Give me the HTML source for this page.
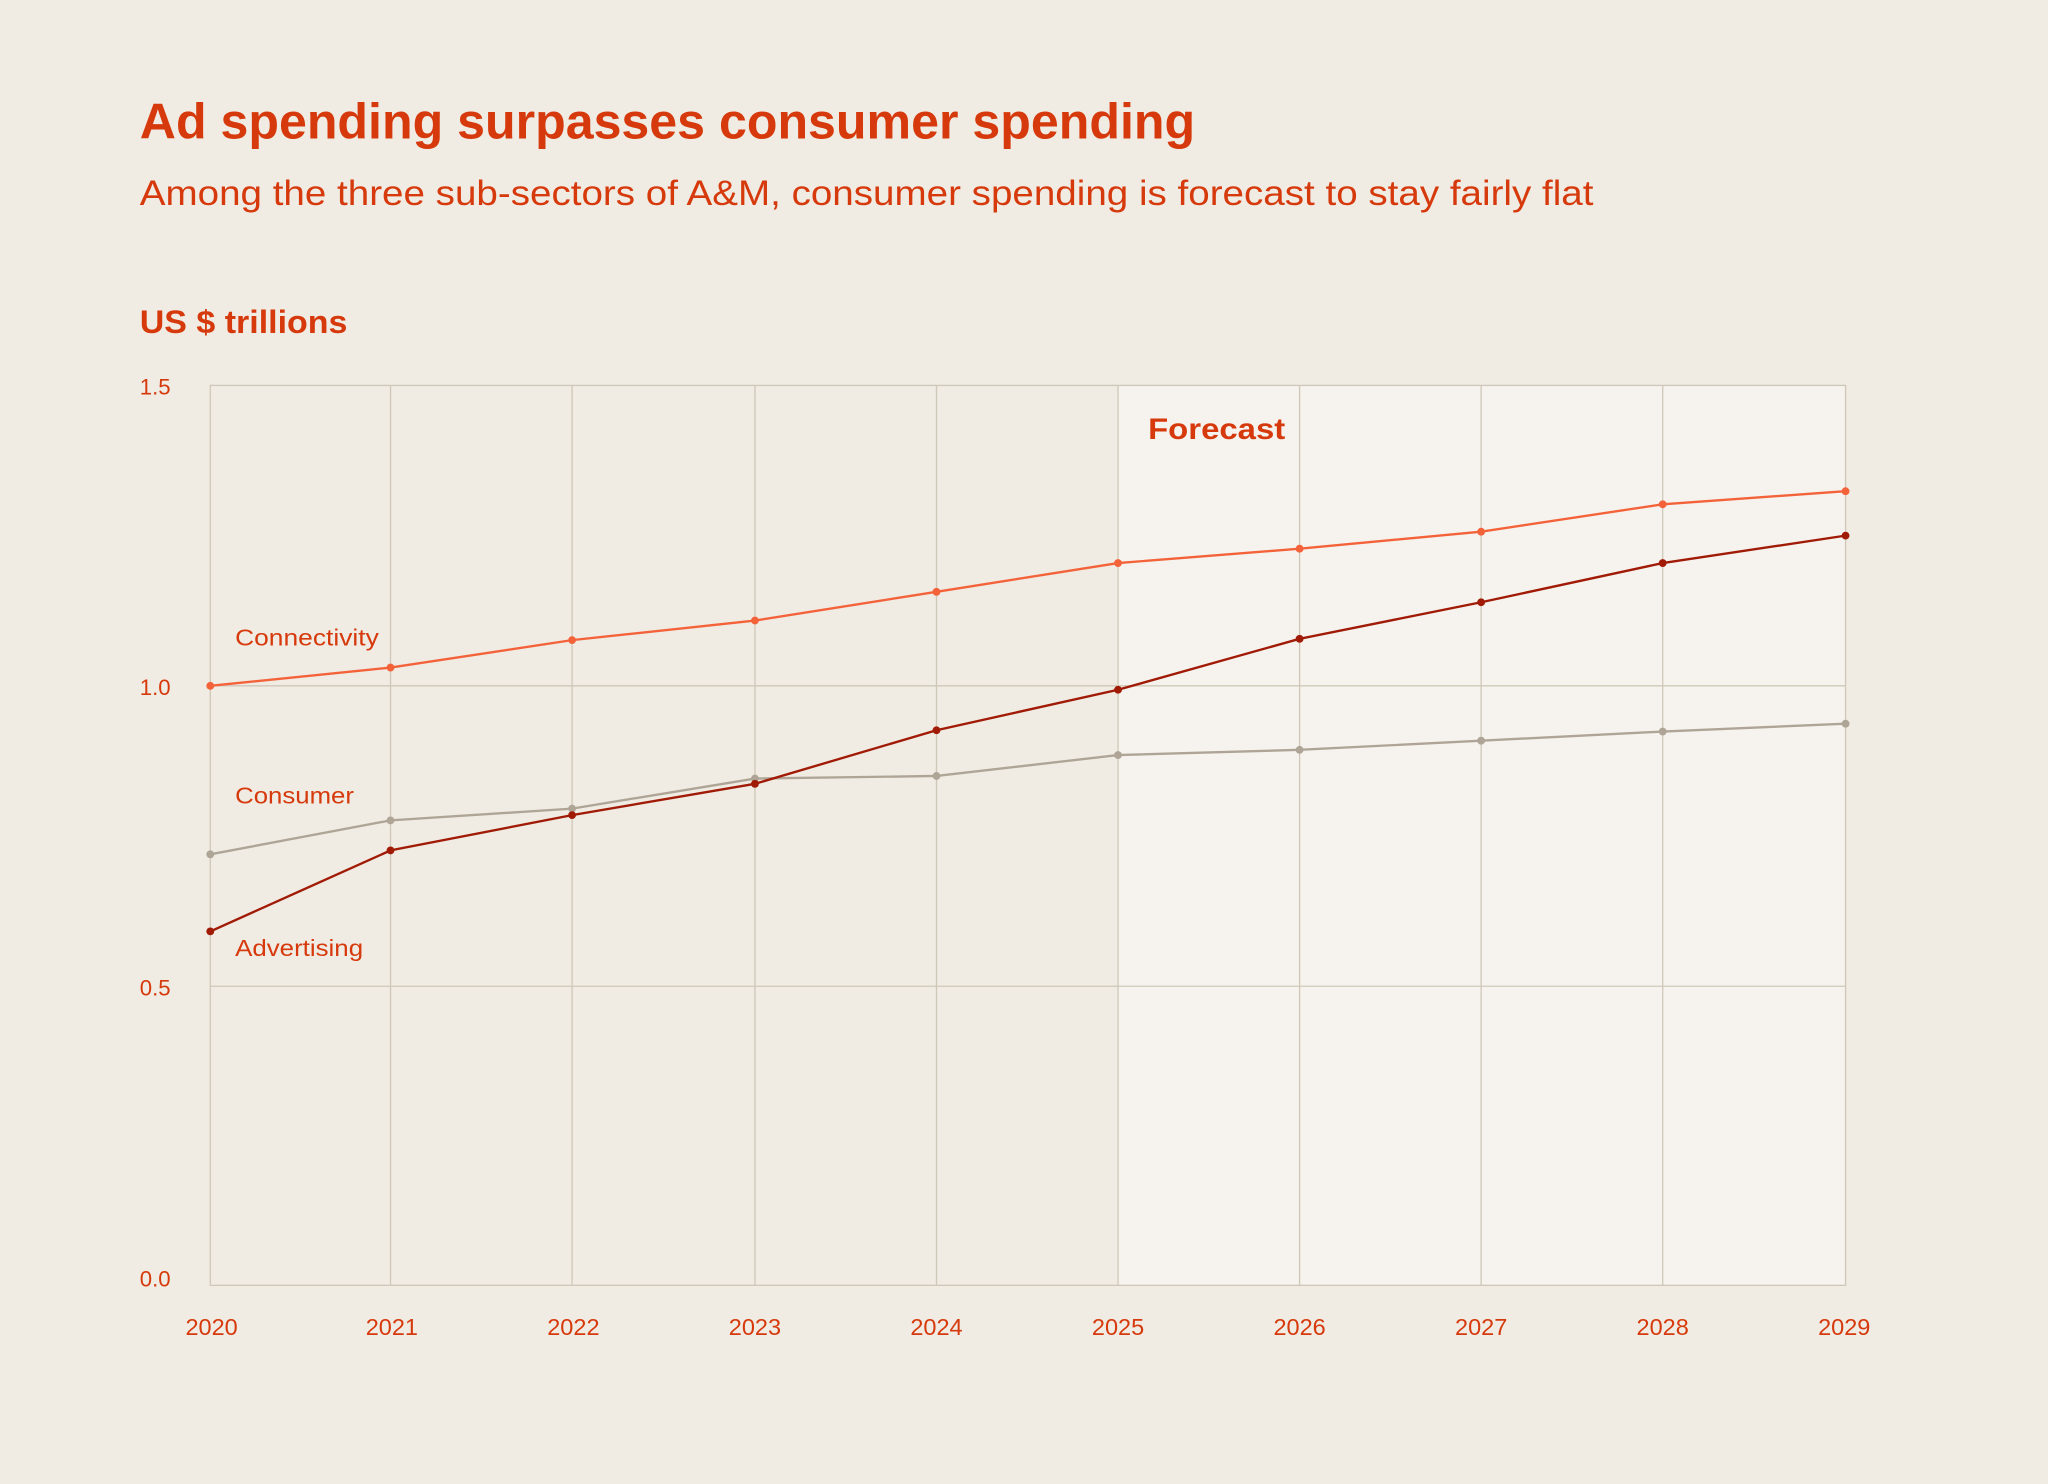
<!DOCTYPE html>
<html><head><style>
html,body{margin:0;padding:0;background:#f0ebe3;}
svg{display:block;}
text{font-family:"Liberation Sans",sans-serif;fill:#d63a0c;}
</style></head><body>
<svg width="2048" height="1484" viewBox="0 0 1568 1136" xmlns="http://www.w3.org/2000/svg">
<rect width="1568" height="1136" fill="#f0ebe3"/>
<text x="107" y="106" font-size="38" font-weight="bold" textLength="808" lengthAdjust="spacingAndGlyphs">Ad spending surpasses consumer spending</text>
<text x="107" y="157" font-size="27" textLength="1113" lengthAdjust="spacingAndGlyphs">Among the three sub-sectors of A&amp;M, consumer spending is forecast to stay fairly flat</text>
<text x="107" y="255" font-size="25" font-weight="bold" textLength="159" lengthAdjust="spacingAndGlyphs">US $ trillions</text>
<rect x="856" y="295" width="557" height="689" fill="#f6f3ee"/>
<g stroke="#cfc8b8" stroke-width="1" fill="none">
<rect x="161" y="295" width="1252" height="689"/>
<line x1="161" y1="525" x2="1413" y2="525"/>
<line x1="161" y1="755" x2="1413" y2="755"/>
<line x1="299" y1="295" x2="299" y2="984"/>
<line x1="438" y1="295" x2="438" y2="984"/>
<line x1="578" y1="295" x2="578" y2="984"/>
<line x1="717" y1="295" x2="717" y2="984"/>
<line x1="856" y1="295" x2="856" y2="984"/>
<line x1="995" y1="295" x2="995" y2="984"/>
<line x1="1134" y1="295" x2="1134" y2="984"/>
<line x1="1273" y1="295" x2="1273" y2="984"/>
</g>
<g font-size="17">
<text x="107" y="302">1.5</text>
<text x="107" y="532">1.0</text>
<text x="107" y="762">0.5</text>
<text x="107" y="985">0.0</text>
</g>
<g font-size="18" text-anchor="middle">
<text x="162" y="1022">2020</text><text x="300" y="1022">2021</text><text x="439" y="1022">2022</text>
<text x="578" y="1022">2023</text><text x="717" y="1022">2024</text><text x="856" y="1022">2025</text>
<text x="995" y="1022">2026</text><text x="1134" y="1022">2027</text><text x="1273" y="1022">2028</text>
<text x="1412" y="1022">2029</text>
</g>
<text x="879" y="336" font-size="23" font-weight="bold" textLength="105" lengthAdjust="spacingAndGlyphs">Forecast</text>
<g font-size="18">
<text x="180" y="494" textLength="110" lengthAdjust="spacingAndGlyphs">Connectivity</text>
<text x="180" y="615" textLength="91" lengthAdjust="spacingAndGlyphs">Consumer</text>
<text x="180" y="732" textLength="98" lengthAdjust="spacingAndGlyphs">Advertising</text>
</g>
<g fill="none" stroke-width="1.8">
<polyline stroke="#aea596" points="161,654 299,628 438,619 578,596 717,594 856,578 995,574 1134,567 1273,560 1413,554"/>
<polyline stroke="#f4623a" points="161,525 299,511 438,490 578,475 717,453 856,431 995,420 1134,407 1273,386 1413,376"/>
<polyline stroke="#a01a05" points="161,713 299,651 438,624 578,600 717,559 856,528 995,489 1134,461 1273,431 1413,410"/>
</g>
<g fill="#aea596">
<circle cx="161" cy="654" r="3"/><circle cx="299" cy="628" r="3"/><circle cx="438" cy="619" r="3"/><circle cx="578" cy="596" r="3"/><circle cx="717" cy="594" r="3"/><circle cx="856" cy="578" r="3"/><circle cx="995" cy="574" r="3"/><circle cx="1134" cy="567" r="3"/><circle cx="1273" cy="560" r="3"/><circle cx="1413" cy="554" r="3"/>
</g>
<g fill="#f4623a">
<circle cx="161" cy="525" r="3"/><circle cx="299" cy="511" r="3"/><circle cx="438" cy="490" r="3"/><circle cx="578" cy="475" r="3"/><circle cx="717" cy="453" r="3"/><circle cx="856" cy="431" r="3"/><circle cx="995" cy="420" r="3"/><circle cx="1134" cy="407" r="3"/><circle cx="1273" cy="386" r="3"/><circle cx="1413" cy="376" r="3"/>
</g>
<g fill="#a01a05">
<circle cx="161" cy="713" r="3"/><circle cx="299" cy="651" r="3"/><circle cx="438" cy="624" r="3"/><circle cx="578" cy="600" r="3"/><circle cx="717" cy="559" r="3"/><circle cx="856" cy="528" r="3"/><circle cx="995" cy="489" r="3"/><circle cx="1134" cy="461" r="3"/><circle cx="1273" cy="431" r="3"/><circle cx="1413" cy="410" r="3"/>
</g>
</svg>
</body></html>
